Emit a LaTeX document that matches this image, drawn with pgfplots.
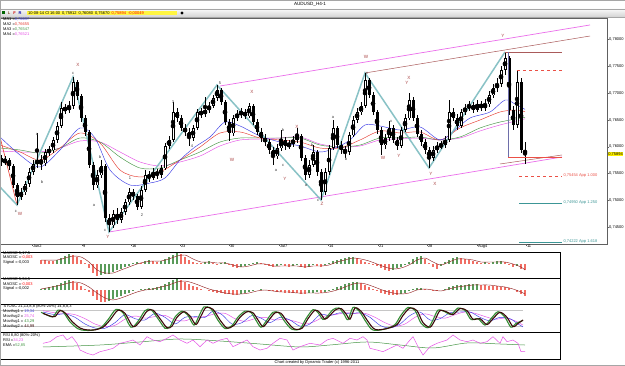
\documentclass[border=0pt]{standalone}
\usepackage{fontspec}
\setmainfont{Liberation Sans}
\usepackage{pgfplots}
\pgfplotsset{compat=1.18}
\usepackage{pgfplotstable}

\definecolor{maBlue}{RGB}{60,60,230}
\definecolor{maRed}{RGB}{230,60,50}
\definecolor{maGreen}{RGB}{70,150,70}
\definecolor{maMag}{RGB}{230,80,230}
\definecolor{wave}{RGB}{125,188,192}
\definecolor{chan}{RGB}{235,110,235}
\definecolor{brownL}{RGB}{170,90,90}
\definecolor{lblUp}{RGB}{170,70,70}
\definecolor{lblLo}{RGB}{60,60,60}
\definecolor{hGreen}{RGB}{90,155,90}
\definecolor{hRed}{RGB}{240,110,100}
\definecolor{sig}{RGB}{150,40,40}
\definecolor{fibRed}{RGB}{235,80,70}
\definecolor{fibTeal}{RGB}{60,150,150}
\definecolor{stGreen}{RGB}{50,140,50}
\definecolor{stDark}{RGB}{60,10,10}
\definecolor{boxBlue}{RGB}{110,110,170}

\newcommand{\lbl}{\fontsize{4}{4.5}\selectfont}
\newcommand{\lblU}{\fontsize{4.6}{5}\selectfont}

\pgfplotstableread{
x o h l c
1 0.75790 0.75846 0.75640 0.75715
5 0.75715 0.75827 0.75659 0.75752
9 0.75752 0.75790 0.75566 0.75640
13 0.75640 0.75678 0.75230 0.75286
17 0.75286 0.75323 0.74913 0.75062
21 0.75062 0.75230 0.75006 0.75155
25 0.75155 0.75361 0.75099 0.75305
29 0.75305 0.75603 0.75249 0.75529
33 0.75529 0.75752 0.75473 0.75678
37 0.75678 0.76256 0.75603 0.75752
41 0.75752 0.75846 0.75566 0.75696
45 0.75696 0.75958 0.75640 0.75902
49 0.75902 0.76014 0.75827 0.75939
53 0.75939 0.76182 0.75883 0.76126
57 0.76126 0.76461 0.76070 0.76387
61 0.76387 0.76835 0.76350 0.76723
65 0.76723 0.76797 0.76611 0.76685
69 0.76685 0.76853 0.76629 0.76760
73 0.76760 0.77301 0.76704 0.77208
77 0.77208 0.77245 0.76872 0.76947
81 0.76947 0.76984 0.76461 0.76536
85 0.76536 0.76592 0.76200 0.76275
89 0.76275 0.76312 0.75603 0.75659
93 0.75659 0.75715 0.75193 0.75286
97 0.75286 0.75566 0.75230 0.75473
101 0.75473 0.75752 0.75417 0.75640
105 0.75640 0.75678 0.74596 0.74670
109 0.74670 0.74745 0.74409 0.74540
113 0.74540 0.74819 0.74484 0.74745
117 0.74745 0.74857 0.74558 0.74633
121 0.74633 0.74857 0.74577 0.74782
125 0.74782 0.75025 0.74726 0.74969
129 0.74969 0.75230 0.74913 0.75155
133 0.75155 0.75211 0.75006 0.75081
137 0.75081 0.75118 0.74819 0.74875
141 0.74875 0.75267 0.74838 0.75193
145 0.75193 0.75566 0.75155 0.75473
149 0.75473 0.75547 0.75342 0.75417
153 0.75417 0.75603 0.75379 0.75529
157 0.75529 0.75585 0.75398 0.75473
161 0.75473 0.75659 0.75417 0.75603
165 0.75603 0.76070 0.75566 0.76014
169 0.76014 0.76200 0.75958 0.76126
173 0.76126 0.76835 0.76088 0.76648
177 0.76648 0.76723 0.76461 0.76536
181 0.76536 0.76592 0.76294 0.76350
185 0.76350 0.76424 0.76200 0.76275
189 0.76275 0.76350 0.76014 0.76163
193 0.76163 0.76406 0.76107 0.76350
197 0.76350 0.76704 0.76312 0.76648
201 0.76648 0.76723 0.76536 0.76611
205 0.76611 0.76928 0.76555 0.76685
209 0.76685 0.76835 0.76629 0.76760
213 0.76760 0.76965 0.76723 0.76909
217 0.76909 0.77152 0.76853 0.77059
221 0.77059 0.77096 0.76779 0.76835
225 0.76835 0.76872 0.76406 0.76461
229 0.76461 0.76517 0.76107 0.76256
233 0.76256 0.76592 0.76200 0.76536
237 0.76536 0.76685 0.76480 0.76611
241 0.76611 0.76723 0.76536 0.76648
245 0.76648 0.76704 0.76517 0.76573
249 0.76573 0.76816 0.76536 0.76760
253 0.76760 0.76797 0.76406 0.76461
257 0.76461 0.76517 0.76219 0.76275
261 0.76275 0.76350 0.76088 0.76163
265 0.76163 0.76238 0.76014 0.76088
269 0.76088 0.76144 0.75864 0.75939
273 0.75939 0.75995 0.75659 0.75827
277 0.75827 0.76051 0.75771 0.75976
281 0.75976 0.76312 0.75920 0.76126
285 0.76126 0.76182 0.75939 0.76014
289 0.76014 0.76126 0.75958 0.76051
293 0.76051 0.76200 0.75995 0.76126
297 0.76126 0.76350 0.76070 0.76200
301 0.76200 0.76238 0.75734 0.75790
305 0.75790 0.75846 0.75379 0.75473
309 0.75473 0.75752 0.75417 0.75659
313 0.75659 0.76032 0.75622 0.75902
317 0.75902 0.75939 0.75454 0.75529
321 0.75529 0.75585 0.75006 0.75155
325 0.75155 0.75603 0.75099 0.75529
329 0.75529 0.76032 0.75473 0.75976
333 0.75976 0.76499 0.75939 0.76350
337 0.76350 0.76387 0.75976 0.76032
341 0.76032 0.76107 0.75864 0.75939
345 0.75939 0.76014 0.75790 0.75902
349 0.75902 0.76275 0.75846 0.76219
353 0.76219 0.76573 0.76182 0.76499
357 0.76499 0.76723 0.76443 0.76648
361 0.76648 0.76835 0.76592 0.76760
365 0.76760 0.77376 0.76723 0.77245
369 0.77245 0.77283 0.76909 0.76965
373 0.76965 0.77021 0.76592 0.76648
377 0.76648 0.76685 0.76238 0.76312
381 0.76312 0.76368 0.75846 0.76032
385 0.76032 0.76238 0.75958 0.76163
389 0.76163 0.76480 0.76107 0.76350
393 0.76350 0.76406 0.76070 0.76126
397 0.76126 0.76182 0.75939 0.76014
401 0.76014 0.76368 0.75976 0.76312
405 0.76312 0.76611 0.76275 0.76536
409 0.76536 0.77003 0.76499 0.76872
413 0.76872 0.76928 0.76480 0.76536
417 0.76536 0.76592 0.76182 0.76238
421 0.76238 0.76312 0.76014 0.76088
425 0.76088 0.76144 0.75864 0.75939
429 0.75939 0.75995 0.75603 0.75790
433 0.75790 0.76014 0.75734 0.75939
437 0.75939 0.76088 0.75883 0.76014
441 0.76014 0.76107 0.75958 0.76032
445 0.76032 0.76200 0.75976 0.76126
449 0.76126 0.76872 0.76088 0.76648
453 0.76648 0.76723 0.76480 0.76536
457 0.76536 0.76611 0.76312 0.76387
461 0.76387 0.76704 0.76350 0.76648
465 0.76648 0.76797 0.76592 0.76723
469 0.76723 0.76853 0.76667 0.76779
473 0.76779 0.76835 0.76629 0.76685
477 0.76685 0.76872 0.76648 0.76797
481 0.76797 0.76853 0.76667 0.76723
485 0.76723 0.76891 0.76667 0.76797
489 0.76797 0.77040 0.76741 0.76965
493 0.76965 0.77171 0.76909 0.77096
497 0.77096 0.77283 0.77021 0.77171
501 0.77171 0.77506 0.77115 0.77432
505 0.77432 0.77768 0.77339 0.77656
509 0.77656 0.77693 0.76592 0.76685
513 0.76685 0.76760 0.76312 0.76406
517 0.76406 0.77432 0.76350 0.77208
521 0.77208 0.77283 0.75883 0.75939
525 0.75912 0.76080 0.75670 0.75894
}\candles

\pgfplotstableread{
x v g
41 0.0020 0
45 0.0020 0
49 0.0015 0
53 0.0015 0
57 0.0020 1
61 0.0030 1
65 0.0040 1
69 0.0050 1
73 0.0045 0
77 0.0035 0
81 0.0020 0
85 0.0005 0
89 -0.0020 0
93 -0.0045 0
97 -0.0060 0
101 -0.0055 1
105 -0.0050 1
109 -0.0050 1
113 -0.0040 1
117 -0.0030 1
121 -0.0025 1
125 -0.0015 1
129 -0.0010 1
133 0.0005 1
137 0.0010 1
141 0.0005 0
145 0.0015 1
149 0.0020 1
153 0.0015 0
157 0.0010 0
161 0.0015 1
165 0.0025 1
169 0.0035 1
173 0.0045 1
177 0.0055 1
181 0.0050 0
185 0.0035 0
189 0.0020 0
193 0.0010 0
197 0.0005 0
201 0.0005 0
205 0.0010 1
209 0.0015 1
213 0.0005 0
217 -0.0005 0
221 0.0005 1
225 0.0010 1
229 -0.0005 0
233 -0.0015 0
237 -0.0020 0
241 -0.0015 1
245 -0.0010 1
249 -0.0005 1
253 0.0005 1
257 0.0010 1
261 0.0005 0
265 -0.0005 0
269 -0.0010 0
273 -0.0015 0
277 -0.0010 1
281 -0.0005 1
285 -0.0010 0
289 -0.0015 0
293 -0.0010 1
297 -0.0005 1
301 -0.0015 0
305 -0.0020 0
309 -0.0015 1
313 -0.0005 1
317 -0.0010 0
321 -0.0015 0
325 -0.0005 1
329 0.0005 1
333 0.0015 1
337 0.0020 1
341 0.0025 1
345 0.0030 1
349 0.0035 1
353 0.0035 1
357 0.0030 0
361 0.0020 0
365 0.0010 0
369 0.0005 0
373 -0.0005 0
377 -0.0010 0
381 -0.0020 0
385 -0.0030 0
389 -0.0035 0
393 -0.0030 1
397 -0.0020 1
401 -0.0015 1
405 -0.0005 1
409 0.0010 1
413 0.0025 1
417 0.0035 1
421 0.0040 1
425 0.0025 0
429 0.0005 0
433 -0.0015 0
437 -0.0025 0
441 -0.0010 1
445 0.0010 1
449 0.0020 1
453 0.0030 1
457 0.0035 1
461 0.0030 0
465 0.0025 0
469 0.0020 0
473 0.0015 0
477 0.0010 0
481 0.0005 0
485 0.0010 1
489 0.0005 0
493 0.0010 1
497 0.0015 1
501 0.0015 1
505 0.0010 0
509 -0.0005 0
513 -0.0015 0
517 -0.0010 1
521 -0.0025 0
525 -0.0030 0
}\macdA

\pgfplotstableread{
x v g
41 0.0005 1
45 0.0010 1
49 0.0015 1
53 0.0020 1
57 0.0025 1
61 0.0035 1
65 0.0045 1
69 0.0050 1
73 0.0045 0
77 0.0035 0
81 0.0020 0
85 0.0005 0
89 -0.0010 0
93 -0.0030 0
97 -0.0050 0
101 -0.0060 0
105 -0.0060 0
109 -0.0055 1
113 -0.0045 1
117 -0.0035 1
121 -0.0030 1
125 -0.0020 1
129 -0.0015 1
133 -0.0005 1
137 0.0000 1
141 0.0005 1
145 0.0005 1
149 0.0010 1
153 0.0010 1
157 0.0015 1
161 0.0020 1
165 0.0030 1
169 0.0040 1
173 0.0050 1
177 0.0055 1
181 0.0050 0
185 0.0040 0
189 0.0030 0
193 0.0020 0
197 0.0015 0
201 0.0005 0
205 0.0000 0
209 -0.0005 0
213 -0.0010 0
217 -0.0015 0
221 -0.0015 0
225 -0.0020 0
229 -0.0020 0
233 -0.0025 0
237 -0.0025 0
241 -0.0020 1
245 -0.0015 1
249 -0.0010 1
253 -0.0005 1
257 0.0000 1
261 0.0005 1
265 0.0000 0
269 -0.0005 0
273 -0.0005 0
277 -0.0010 0
281 -0.0010 0
285 -0.0015 0
289 -0.0015 0
293 -0.0015 0
297 -0.0015 0
301 -0.0020 0
305 -0.0020 0
309 -0.0015 1
313 -0.0015 1
317 -0.0010 1
321 -0.0015 0
325 -0.0010 1
329 -0.0005 1
333 0.0005 1
337 0.0015 1
341 0.0020 1
345 0.0030 1
349 0.0035 1
353 0.0040 1
357 0.0040 1
361 0.0035 0
365 0.0025 0
369 0.0015 0
373 0.0005 0
377 -0.0005 0
381 -0.0015 0
385 -0.0020 0
389 -0.0025 0
393 -0.0025 0
397 -0.0025 0
401 -0.0020 1
405 -0.0015 1
409 -0.0005 1
413 0.0005 1
417 0.0010 1
421 0.0010 1
425 0.0005 0
429 0.0000 0
433 -0.0005 0
437 -0.0005 0
441 0.0000 1
445 0.0005 1
449 0.0015 1
453 0.0020 1
457 0.0025 1
461 0.0025 1
465 0.0025 1
469 0.0030 1
473 0.0030 1
477 0.0030 1
481 0.0025 0
485 0.0025 0
489 0.0020 0
493 0.0020 0
497 0.0020 0
501 0.0015 0
505 0.0015 0
509 0.0010 0
513 0.0000 0
517 -0.0010 0
521 -0.0020 0
525 -0.0030 0
}\macdB

\begin{document}
\begin{tikzpicture}
\path[use as bounding box, fill=white] (0pt,0pt) rectangle (625pt,365pt);
% title bar and toolbar
\shade[top color=gray!5, bottom color=gray!35] (0pt,348pt) rectangle (625pt,356pt);
\draw[gray!70, line width=0.4pt] (0pt,356pt) -- (625pt,356pt);
\draw[gray!70, line width=0.4pt] (0pt,348pt) -- (625pt,348pt);
\node[font=\lblU, inner sep=0] at (310pt,360.8pt) {AUDUSD\_H4-1};
\fill[green!40!black] (1.5pt,350.5pt) rectangle (4.5pt,353.5pt);
\node[font=\lbl\bfseries, text=brown!70!black, inner sep=0] at (9pt,352pt) {L};
\node[font=\lbl\bfseries, text=red!80!black, inner sep=0] at (14.5pt,352pt) {F};
\node[font=\lbl\bfseries, text=blue!70!black, inner sep=0] at (20pt,352pt) {R};
\fill[yellow!75] (27pt,349.6pt) rectangle (177pt,354.4pt);
\node[anchor=west, inner sep=0, font=\lbl] at (28pt,352pt) {10-08-14 Cl 16:00\enspace 0,75912\enspace 0,76080\enspace 0,75670\enspace\textcolor{red}{0,75894\enspace -0,00049}};
\fill (182pt,353.6pt) -- (183.6pt,352pt) -- (182pt,350.4pt) -- (180.4pt,352pt) -- cycle;

% ---------------- main price panel ----------------
\begin{axis}[
  at={(0pt,121pt)}, anchor=south west,
  scale only axis, width=607pt, height=226pt,
  xmin=0, xmax=607, ymin=0.74185, ymax=0.78402,
  axis line style={draw=gray!75!black, line width=0.4pt},
  xtick={32,82,131,180,229,279,328,378,427,477,526},
  xticklabels={Jun2,9,16,23,30,Jul7,14,21,28,Aug4,11},
  ytick={0.745,0.750,0.755,0.760,0.765,0.770,0.775,0.780},
  yticklabels={{0,74500},{0,75000},{0,75500},{0,76000},{0,76500},{0,77000},{0,77500},{0,78000}},
  scaled y ticks=false,
  xtick pos=bottom, ytick pos=right, yticklabel pos=right,
  tick align=outside, major tick length=2pt,
  tick style={gray!75!black, line width=0.4pt},
  xticklabel style={font=\lbl, anchor=north west, xshift=0.3pt, yshift=2.2pt, inner sep=0.5pt},
  yticklabel style={font=\lbl, anchor=west, xshift=-0.5pt, inner sep=0.5pt},
  clip=true,
]
% channel lines
\addplot[chan, line width=0.7pt] coordinates {(109,0.74409) (562,0.75808)};
\addplot[chan, line width=0.7pt] coordinates {(220,0.77133) (590,0.78272)};
\addplot[brownL, line width=0.5pt] coordinates {(365,0.77376) (590,0.78066)};
\addplot[brownL, line width=0.5pt] coordinates {(500,0.75678) (562,0.75846)};
% moving averages
\addplot[maMag, line width=0.45pt, smooth] coordinates {(0,0.75920) (20,0.75902) (40,0.75902) (60,0.75976) (80,0.76107) (100,0.76088) (120,0.75902) (140,0.75715) (160,0.75640) (180,0.75715) (200,0.75827) (220,0.76014) (240,0.76126) (260,0.76144) (280,0.76163) (300,0.76182) (320,0.76051) (340,0.75995) (360,0.76014) (380,0.76126) (400,0.76144) (420,0.76163) (440,0.76126) (460,0.76163) (480,0.76294) (500,0.76406) (525,0.76521)};
\addplot[maGreen, line width=0.45pt, smooth] coordinates {(0,0.75976) (20,0.75939) (40,0.75883) (60,0.75976) (80,0.76163) (100,0.76088) (120,0.75808) (140,0.75603) (160,0.75603) (180,0.75752) (200,0.75902) (220,0.76088) (240,0.76163) (260,0.76163) (280,0.76163) (300,0.76163) (320,0.76032) (340,0.75995) (360,0.76032) (380,0.76163) (400,0.76163) (420,0.76182) (440,0.76126) (460,0.76182) (480,0.76350) (500,0.76461) (525,0.76547)};
\addplot[maRed, line width=0.45pt, smooth] coordinates {(0,0.76032) (20,0.75902) (40,0.75752) (60,0.75976) (80,0.76256) (100,0.76070) (120,0.75566) (140,0.75435) (160,0.75529) (180,0.75752) (200,0.75995) (220,0.76256) (240,0.76275) (260,0.76163) (280,0.76126) (300,0.76088) (320,0.75976) (340,0.75976) (360,0.76126) (380,0.76294) (400,0.76256) (420,0.76275) (440,0.76126) (460,0.76350) (480,0.76499) (500,0.76648) (515,0.76685) (525,0.76655)};
\addplot[maBlue, line width=0.45pt, smooth] coordinates {(0,0.76182) (20,0.75846) (40,0.75622) (60,0.75939) (80,0.76350) (95,0.76163) (110,0.75566) (130,0.75286) (150,0.75323) (165,0.75417) (180,0.75752) (195,0.75995) (210,0.76182) (225,0.76461) (240,0.76387) (260,0.76200) (280,0.76088) (300,0.76014) (320,0.75902) (335,0.75976) (350,0.76126) (365,0.76406) (380,0.76387) (400,0.76312) (420,0.76368) (440,0.76126) (455,0.76312) (470,0.76536) (490,0.76648) (505,0.76872) (515,0.76797) (525,0.76697)};
% wave count lines
\addplot[maRed, line width=0.6pt] coordinates {(0,0.76182) (17,0.74913)};
\addplot[wave, line width=1.5pt, opacity=0.9] coordinates {(0,0.75249) (17,0.74913) (73,0.77301) (109,0.74409) (217,0.77152) (321,0.75006) (365,0.77376) (429,0.75603) (505,0.77768)};
% candles: wicks, bodies, hollow up bodies
\addplot[only marks, mark=none, forget plot, error bars/.cd, y dir=both, y explicit, error mark=none,
  error bar style={draw=black, line width=0.6pt}]
  table[x=x, y expr={(\thisrow{h}+\thisrow{l})/2}, y error expr={(\thisrow{h}-\thisrow{l})/2}] {\candles};
\addplot[only marks, mark=none, forget plot, error bars/.cd, y dir=both, y explicit, error mark=none,
  error bar style={draw=black, line width=3.0pt}]
  table[x=x, y expr={(\thisrow{o}+\thisrow{c})/2}, y error expr={max(abs(\thisrow{c}-\thisrow{o})/2,0.00004)}] {\candles};
\addplot[only marks, mark=none, forget plot, error bars/.cd, y dir=both, y explicit, error mark=none,
  error bar style={draw=white, line width=0.9pt}]
  table[x=x, y expr={(\thisrow{o}+\thisrow{c})/2}, y error expr={max((\thisrow{c}-\thisrow{o})/2-0.0001,0)}] {\candles};
% box and fib projection lines
\addplot[brownL, line width=0.5pt] coordinates {(505,0.77768) (562,0.77768)};
\addplot[fibRed, line width=0.5pt, dashed] coordinates {(517,0.77432) (562,0.77432)};
\addplot[boxBlue, line width=0.5pt] coordinates {(508,0.77768) (508,0.75808)};
\addplot[fibRed, line width=0.5pt] coordinates {(508,0.75808) (562,0.75808)};
\addplot[fibRed, line width=0.5pt, dashed] coordinates {(519,0.75454) (562,0.75454)};
\addplot[fibTeal, line width=0.5pt] coordinates {(519,0.74950) (562,0.74950)};
\addplot[fibTeal, line width=0.5pt] coordinates {(519,0.74222) (562,0.74222)};
\end{axis}

% last price marker and fib labels
\node[anchor=west, fill=yellow, inner sep=0.5pt, font=\lbl] at (607.6pt,211pt) {0,75894};
\node[anchor=west, inner sep=0.3pt, font=\lbl, text=fibRed] at (563pt,189pt) {0,75454 App 1.000};
\node[anchor=west, inner sep=0.3pt, font=\lbl, text=fibTeal] at (563pt,162pt) {0,74950 App 1.250};
\node[anchor=west, inner sep=0.3pt, font=\lbl, text=fibTeal] at (563pt,123pt) {0,74222 App 1.618};

% MA legend
\node[anchor=west, inner sep=0, font=\lbl] at (3pt,345.3pt) {MA1 =\textcolor{maBlue}{0,76697}};
\node[anchor=west, inner sep=0, font=\lbl] at (3pt,340.4pt) {MA2 =\textcolor{maRed}{0,76655}};
\node[anchor=west, inner sep=0, font=\lbl] at (3pt,335.5pt) {MA3 =\textcolor{maGreen}{0,76547}};
\node[anchor=west, inner sep=0, font=\lbl] at (3pt,330.6pt) {MA4 =\textcolor{maMag}{0,76521}};

% wave labels
\begin{scope}[every node/.style={inner sep=0, font=\lblU, text=lblUp}]
\node at (20pt,151pt) {W};
\node at (78pt,300pt) {X};
\node at (108pt,128pt) {Y};
\node at (232pt,205pt) {W};
\node at (252pt,273pt) {X};
\node at (285pt,186pt) {Y};
\node at (297pt,238pt) {X};
\node at (322pt,161pt) {Z};
\node at (366pt,308pt) {W};
\node at (383pt,207pt) {W};
\node at (399pt,209pt) {Y};
\node at (409pt,287pt) {X};
\node at (407pt,282pt) {Y};
\node at (431pt,191pt) {Y};
\node at (435pt,181pt) {X};
\node at (503pt,329pt) {Y};
\end{scope}
\begin{scope}[every node/.style={inner sep=0, font=\lbl, text=lblLo}]
\node at (16pt,154pt) {c};
\node at (37pt,231pt) {a};
\node at (42pt,183pt) {b};
\node at (73pt,292pt) {c};
\node at (100pt,208pt) {b};
\node at (94pt,160pt) {a};
\node at (105pt,135pt) {c};
\node at (130pt,187pt) {1};
\node at (142pt,150pt) {2};
\node at (173pt,263pt) {3};
\node at (192pt,219pt) {4};
\node at (220pt,282pt) {5};
\node at (276pt,195pt) {a};
\node at (283pt,235pt) {b};
\node at (283pt,200pt) {c};
\node at (306pt,180pt) {a};
\node at (312pt,220pt) {b};
\node at (318pt,165pt) {c};
\node at (333pt,248pt) {a};
\node at (346pt,206pt) {b};
\node at (367pt,292pt) {c};
\node at (391pt,244pt) {x};
\end{scope}

% ---------------- MACD 5,17,5 ----------------
\begin{axis}[
  at={(0pt,87pt)}, anchor=south west, scale only axis, width=560pt, height=26pt,
  xmin=0, xmax=560, ymin=-0.007, ymax=0.006, ticks=none,
  axis line style={draw=black, line width=0.6pt}, clip=true]
\addplot[ycomb, mark=none, draw=hGreen, line width=1.9pt] table[x=x, y expr={\thisrow{g}*\thisrow{v}}] {\macdA};
\addplot[ycomb, mark=none, draw=hRed, line width=1.9pt] table[x=x, y expr={(1-\thisrow{g})*\thisrow{v}}] {\macdA};
\addplot[sig, line width=0.45pt, smooth] coordinates {(41,0.0020) (57,0.0020) (65,0.0030) (73,0.0040) (81,0.0035) (89,0.0010) (97,-0.0030) (105,-0.0045) (113,-0.0045) (121,-0.0030) (129,-0.0015) (137,0.0000) (145,0.0010) (153,0.0015) (161,0.0015) (169,0.0025) (177,0.0040) (185,0.0045) (193,0.0025) (201,0.0010) (209,0.0010) (217,0.0005) (225,0.0005) (233,-0.0005) (241,-0.0015) (249,-0.0010) (257,0.0000) (265,0.0000) (273,-0.0010) (281,-0.0010) (289,-0.0010) (297,-0.0010) (305,-0.0015) (313,-0.0010) (321,-0.0010) (329,-0.0005) (337,0.0010) (345,0.0020) (353,0.0030) (361,0.0025) (369,0.0015) (377,0.0000) (385,-0.0015) (393,-0.0025) (401,-0.0020) (409,-0.0005) (417,0.0020) (425,0.0030) (433,0.0010) (441,-0.0005) (449,0.0010) (457,0.0025) (465,0.0025) (473,0.0020) (481,0.0010) (489,0.0010) (497,0.0010) (505,0.0010) (513,0.0000) (521,-0.0015) (525,-0.0030)};
\end{axis}
\node[anchor=west, inner sep=0, font=\lbl] at (3pt,111.8pt) {MAOSC 5,17,5};
\node[anchor=west, inner sep=0, font=\lbl] at (3pt,107.3pt) {MAOSC =\textcolor{red}{-0,003}};
\node[anchor=west, inner sep=0, font=\lbl] at (3pt,102.6pt) {Signal =-0,003};

% ---------------- MACD 5,34,5 ----------------
\begin{axis}[
  at={(0pt,61pt)}, anchor=south west, scale only axis, width=560pt, height=26pt,
  xmin=0, xmax=560, ymin=-0.007, ymax=0.006, ticks=none,
  axis line style={draw=black, line width=0.6pt}, clip=true]
\addplot[ycomb, mark=none, draw=hGreen, line width=1.9pt] table[x=x, y expr={\thisrow{g}*\thisrow{v}}] {\macdB};
\addplot[ycomb, mark=none, draw=hRed, line width=1.9pt] table[x=x, y expr={(1-\thisrow{g})*\thisrow{v}}] {\macdB};
\addplot[sig, line width=0.45pt, smooth] coordinates {(41,0.0005) (57,0.0020) (65,0.0030) (73,0.0040) (81,0.0035) (89,0.0015) (97,-0.0015) (105,-0.0040) (113,-0.0050) (121,-0.0040) (129,-0.0025) (137,-0.0010) (145,0.0000) (153,0.0005) (161,0.0015) (169,0.0025) (177,0.0040) (185,0.0045) (193,0.0035) (201,0.0020) (209,0.0005) (217,-0.0005) (225,-0.0015) (233,-0.0020) (241,-0.0020) (249,-0.0015) (257,-0.0005) (265,0.0000) (273,-0.0005) (281,-0.0010) (289,-0.0010) (297,-0.0015) (305,-0.0015) (313,-0.0015) (321,-0.0015) (329,-0.0010) (337,0.0000) (345,0.0015) (353,0.0030) (361,0.0035) (369,0.0025) (377,0.0010) (385,-0.0005) (393,-0.0015) (401,-0.0020) (409,-0.0015) (417,0.0000) (425,0.0005) (433,0.0000) (441,-0.0005) (449,0.0005) (457,0.0015) (465,0.0020) (473,0.0025) (481,0.0025) (489,0.0025) (497,0.0020) (505,0.0015) (513,0.0005) (521,-0.0010) (525,-0.0020)};
\end{axis}
\node[anchor=west, inner sep=0, font=\lbl] at (3pt,85.2pt) {MAOSC 5,34,5};
\node[anchor=west, inner sep=0, font=\lbl] at (3pt,80.7pt) {MAOSC =\textcolor{red}{-0,003}};
\node[anchor=west, inner sep=0, font=\lbl] at (3pt,76.1pt) {Signal =-0,002};

% ---------------- Stochastic ----------------
\begin{axis}[
  at={(0pt,33pt)}, anchor=south west, scale only axis, width=560pt, height=28pt,
  xmin=0, xmax=560, ymin=0, ymax=105, ticks=none,
  axis line style={draw=black, line width=0.6pt}, clip=true]
\addplot[gray!45, line width=0.4pt] coordinates {(0,80) (523,80)};
\addplot[gray!45, line width=0.4pt] coordinates {(0,20) (523,20)};
\addplot[maMag, line width=0.45pt, smooth] coordinates {(43,80) (55,72) (65,70) (75,65) (85,50) (95,30) (105,20) (115,25) (125,48) (135,60) (145,52) (155,58) (165,62) (175,45) (185,42) (195,55) (205,58) (215,68) (225,70) (235,50) (245,40) (255,50) (265,55) (275,45) (285,48) (295,40) (305,30) (315,40) (325,60) (335,65) (345,72) (355,70) (365,70) (375,55) (385,35) (395,22) (405,30) (415,55) (425,68) (435,58) (445,52) (455,65) (465,75) (475,70) (485,58) (495,48) (505,52) (515,42) (523,25.74)};
\addplot[maBlue, line width=0.45pt, smooth] coordinates {(43,75) (55,65) (65,68) (75,55) (85,30) (95,15) (105,14) (115,35) (125,65) (135,50) (145,45) (155,70) (165,55) (175,30) (185,55) (195,58) (205,55) (213,78) (222,65) (232,30) (242,35) (252,62) (262,50) (270,35) (280,55) (290,45) (300,22) (310,30) (320,65) (330,62) (340,72) (350,68) (360,72) (370,55) (380,25) (390,15) (400,30) (410,62) (420,75) (430,45) (440,50) (450,72) (460,75) (470,75) (480,55) (490,42) (500,55) (510,50) (518,30) (523,19.34)};
\addplot[stGreen, line width=1.1pt, smooth] coordinates {(41,74) (48,62) (53,57) (58,82) (63,76) (70,38) (78,12) (85,6) (93,7) (101,17) (108,46) (116,85) (123,72) (131,18) (138,40) (145,80) (151,84) (158,50) (165,14) (170,20) (175,56) (182,78) (188,62) (194,26) (199,60) (204,94) (211,87) (218,44) (225,13) (232,24) (238,56) (245,78) (251,73) (256,44) (261,18) (266,40) (273,74) (279,71) (285,38) (292,10) (300,12) (306,50) (313,84) (318,73) (323,47) (328,62) (333,84) (339,90) (344,67) (348,46) (353,92) (359,79) (365,44) (371,12) (376,6) (386,12) (395,28) (401,63) (408,92) (415,81) (421,33) (428,16) (433,45) (438,82) (445,76) (451,65) (458,90) (465,81) (471,47) (478,50) (485,26) (491,50) (498,76) (505,55) (511,18) (516,32) (523,43.29)};
\addplot[stDark, line width=1.1pt, smooth] coordinates {(43,70) (50,60) (55,58) (60,80) (65,72) (72,40) (80,15) (87,8) (95,8) (103,18) (110,45) (118,82) (125,70) (133,20) (140,40) (147,78) (153,82) (160,50) (167,16) (172,22) (177,55) (184,76) (190,60) (196,28) (201,60) (206,92) (213,85) (220,45) (227,15) (234,25) (240,55) (247,76) (253,72) (258,45) (263,20) (268,40) (275,72) (281,70) (287,40) (294,12) (302,14) (308,50) (315,82) (320,72) (325,48) (330,62) (335,82) (341,88) (346,68) (350,48) (355,90) (361,78) (367,45) (373,15) (378,8) (388,14) (397,28) (403,62) (410,90) (417,80) (423,35) (430,18) (435,45) (440,80) (447,75) (453,65) (460,88) (467,80) (473,48) (480,50) (487,28) (493,50) (500,74) (507,55) (513,20) (518,32) (523,44.99)};
\end{axis}
\node[anchor=west, inner sep=0.3pt, fill=white, font=\lbl] at (3pt,58.2pt) {STOSC 21,13,8,8 (80\%-20\%) 14,8,8,3};
\node[anchor=west, inner sep=0, font=\lbl] at (3pt,53.2pt) {MovAvg1 = \textcolor{maBlue}{19,34}};
\node[anchor=west, inner sep=0, font=\lbl] at (3pt,48.2pt) {MovAvg2 = \textcolor{maMag}{25,74}};
\node[anchor=west, inner sep=0, font=\lbl] at (3pt,43.2pt) {MovAvg1 = \textcolor{stGreen}{43,29}};
\node[anchor=west, inner sep=0, font=\lbl] at (3pt,38.2pt) {MovAvg2 = \textcolor{stDark}{44,99}};

% ---------------- RSI ----------------
\begin{axis}[
  at={(0pt,6pt)}, anchor=south west, scale only axis, width=560pt, height=27pt,
  xmin=0, xmax=560, ymin=14, ymax=89, ticks=none,
  axis line style={draw=black, line width=0.6pt}, clip=true]
\addplot[maGreen, line width=0.5pt, smooth] coordinates {(43,47.4) (100,52.9) (140,61.3) (180,69.6) (220,64.0) (260,55.7) (300,47.4) (330,52.9) (367,61.3) (400,52.9) (433,44.6) (467,58.5) (500,55.7) (525,52.85)};
\addplot[maMag, line width=0.5pt] coordinates {(43,57.6) (50,62.1) (57,76.0) (63,80.7) (67,66.8) (72,76.0) (77,57.6) (80,39.0) (87,29.8) (93,25.1) (100,34.3) (107,39.0) (113,43.7) (120,57.6) (127,62.1) (133,66.8) (140,52.9) (147,76.0) (153,66.8) (160,62.1) (167,71.5) (173,80.7) (180,66.8) (187,57.6) (193,66.8) (200,48.2) (207,66.8) (213,57.6) (220,66.8) (227,71.5) (233,48.2) (240,57.6) (247,66.8) (253,48.2) (260,39.0) (267,43.7) (273,57.6) (280,71.5) (287,66.8) (293,39.0) (300,48.2) (310,57.6) (320,52.9) (327,66.8) (333,71.5) (343,57.6) (350,71.5) (357,66.8) (363,76.0) (367,66.8) (370,43.7) (377,39.0) (383,34.3) (390,43.7) (397,52.9) (403,43.7) (410,66.8) (413,76.0) (418,48.2) (423,25.1) (430,48.2) (437,57.6) (447,66.8) (453,80.7) (460,66.8) (467,62.1) (473,66.8) (480,57.6) (487,62.1) (493,76.0) (500,57.6) (503,76.0) (507,62.1) (513,66.8) (518,57.6) (521,34.3) (525,34.23)};
\end{axis}
\node[anchor=west, inner sep=0, font=\lbl] at (3pt,29.2pt) {RSI 8,80 (80\%-20\%)};
\node[anchor=west, inner sep=0, font=\lbl] at (3pt,24.6pt) {RSI =\textcolor{maMag}{34,23}};
\node[anchor=west, inner sep=0, font=\lbl] at (3pt,20pt) {EMA =\textcolor{maGreen}{52,85}};

% footer
\node[font=\lbl, inner sep=0] at (317pt,2.9pt) {Chart created by Dynamic Trader (c) 1996-2011};
\draw[gray!70, line width=0.5pt] (0.25pt,0.25pt) rectangle (624.75pt,364.75pt);
\end{tikzpicture}
\end{document}
